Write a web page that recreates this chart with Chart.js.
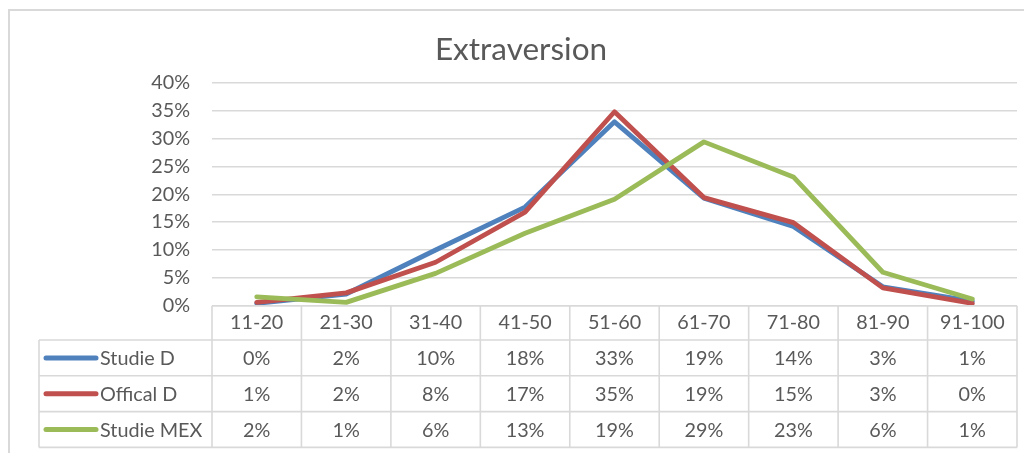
<!DOCTYPE html>
<html>
<head>
<meta charset="utf-8">
<title>Extraversion</title>
<script src="https://cdn.jsdelivr.net/npm/chart.js@4.4.1/dist/chart.umd.min.js"></script>
<style>
  html, body { margin: 0; padding: 0; background: #ffffff; }
  #wrap { position: relative; width: 1024px; height: 453px; }
</style>
</head>
<body>
<div id="wrap"><canvas id="chart" width="1024" height="453"></canvas></div>
<script>
// Score bands on the x axis
const categories = ['11-20', '21-30', '31-40', '41-50', '51-60', '61-70', '71-80', '81-90', '91-100'];

// Share of respondents per band, in percent
const studieD   = [0.4, 2.1, 10.0, 17.7, 33.0, 19.3, 14.2, 3.4, 0.8];
const officalD  = [0.6, 2.3, 7.8, 16.8, 34.8, 19.4, 14.9, 3.2, 0.4];
const studieMEX = [1.6, 0.6, 5.8, 13.0, 19.1, 29.4, 23.1, 6.0, 1.2];

// Y axis ticks, in percent
const yTicks = [0, 5, 10, 15, 20, 25, 30, 35, 40];

const seriesNames = ['Studie D', 'Offical D', 'Studie MEX'];
const seriesColors = ['#4F81BD', '#C0504D', '#9BBB59'];
const seriesValues = [studieD, officalD, studieMEX];

const TEXT = '#595959';
const GRID = '#D9D9D9';
const FONT = 'Lato, "Open Sans", sans-serif';
const SMALL = 19.8;

// Frame around the whole chart object
const framePlugin = {
  id: 'frame',
  beforeDraw(chart) {
    const ctx = chart.ctx;
    ctx.save();
    ctx.fillStyle = '#ffffff';
    ctx.fillRect(0, 0, chart.width, chart.height);
    ctx.strokeStyle = GRID;
    ctx.lineWidth = 2;
    ctx.beginPath();
    ctx.moveTo(9, chart.height);
    ctx.lineTo(9, 10);
    ctx.lineTo(chart.width, 10);
    ctx.stroke();
    ctx.restore();
  }
};

// Data table under the plot: header row comes from the x axis labels,
// one row per series with a legend key and the rounded values.
const dataTablePlugin = {
  id: 'dataTable',
  afterDraw(chart) {
    const ctx = chart.ctx;
    const x = chart.scales.x;
    const area = chart.chartArea;
    const n = categories.length;
    const colW = (area.right - area.left) / n;
    const top = area.bottom;
    const headerBottom = top + x.height;
    const rowH = 35.8;
    const legendLeft = 39;
    const rows = seriesNames.length;
    const tableBottom = headerBottom + rowH * rows;

    ctx.save();
    ctx.strokeStyle = GRID;
    ctx.lineWidth = 1.6;
    ctx.beginPath();
    // horizontal rules
    ctx.moveTo(area.left, top); ctx.lineTo(area.right, top);
    for (let r = 0; r <= rows; r++) {
      const y = headerBottom + r * rowH;
      ctx.moveTo(legendLeft, y); ctx.lineTo(area.right, y);
    }
    // vertical rules
    for (let c = 0; c <= n; c++) {
      const xx = area.left + c * colW;
      ctx.moveTo(xx, top); ctx.lineTo(xx, tableBottom);
    }
    ctx.moveTo(legendLeft, headerBottom); ctx.lineTo(legendLeft, tableBottom);
    ctx.stroke();

    ctx.font = SMALL + 'px ' + FONT;
    ctx.fillStyle = TEXT;
    ctx.textBaseline = 'middle';
    for (let r = 0; r < rows; r++) {
      const cy = headerBottom + r * rowH + rowH / 2;
      // legend key
      ctx.strokeStyle = seriesColors[r];
      ctx.lineWidth = 5;
      ctx.lineCap = 'round';
      ctx.beginPath();
      ctx.moveTo(46, cy); ctx.lineTo(96, cy);
      ctx.stroke();
      ctx.textAlign = 'left';
      ctx.fillText(seriesNames[r], 100, cy + 1);
      // values
      ctx.textAlign = 'center';
      seriesValues[r].forEach((v, i) => {
        ctx.fillText(Math.round(v) + '%', x.getPixelForValue(i), cy + 1);
      });
    }
    ctx.restore();
  }
};

const datasets = seriesNames.map((name, i) => ({
  label: name,
  data: seriesValues[i],
  borderColor: seriesColors[i],
  backgroundColor: seriesColors[i],
  borderWidth: 4.8,
  borderJoinStyle: 'round',
  borderCapStyle: 'round',
  pointRadius: 0,
  pointHoverRadius: 0,
  tension: 0,
  fill: false,
  order: 3 - i
}));

new Chart(document.getElementById('chart'), {
  type: 'line',
  data: { labels: categories, datasets },
  plugins: [framePlugin, dataTablePlugin],
  options: {
    responsive: false,
    animation: false,
    events: [],
    layout: { padding: { left: 25, right: 7, top: 0, bottom: 113 } },
    plugins: {
      legend: { display: false },
      tooltip: { enabled: false },
      title: {
        display: true,
        text: 'Extraversion',
        color: TEXT,
        font: { family: FONT, size: 31.5, weight: 'normal' },
        padding: { top: 31, bottom: 14 }
      }
    },
    scales: {
      x: {
        type: 'category',
        offset: true,
        grid: { display: false, drawTicks: false },
        border: { display: false },
        ticks: {
          color: TEXT,
          font: { family: FONT, size: SMALL },
          padding: 5.5,
          maxRotation: 0,
          autoSkip: false
        },
        afterFit(scale) { scale.height = 34.3; }
      },
      y: {
        min: 0,
        max: 40,
        afterBuildTicks(scale) { scale.ticks = yTicks.map(v => ({ value: v })); },
        grid: { color: GRID, lineWidth: 1.5, drawTicks: false },
        border: { display: false },
        ticks: {
          color: TEXT,
          font: { family: FONT, size: SMALL },
          padding: 22,
          callback: v => v + '%'
        },
        afterFit(scale) { scale.width = 187; }
      }
    }
  }
});
</script>
</body>
</html>
